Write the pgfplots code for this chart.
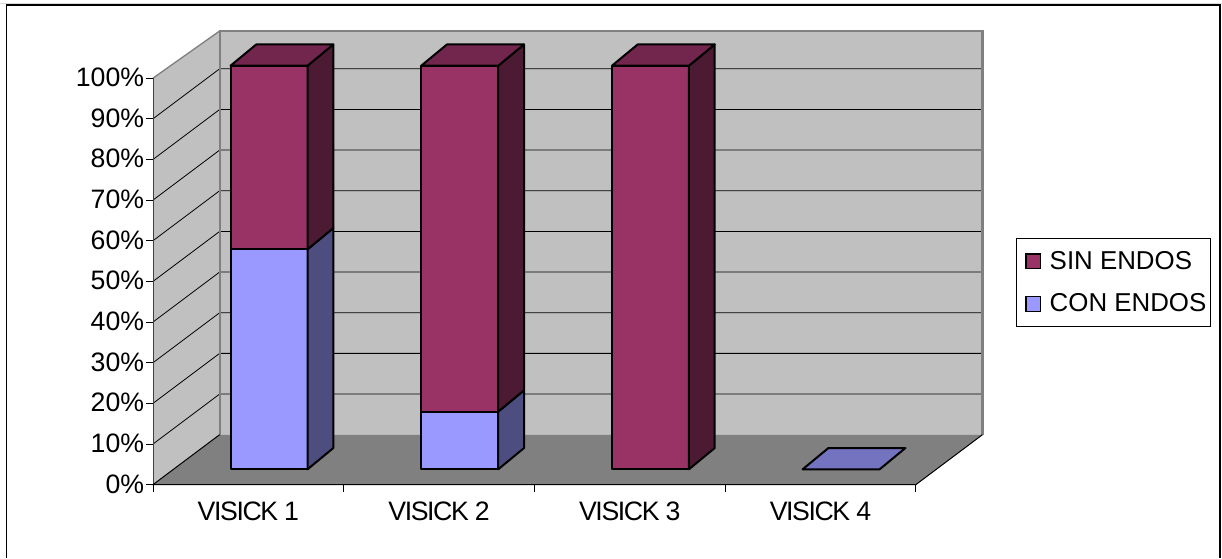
\documentclass[border=0pt]{standalone}
\usepackage{fontspec}
\setmainfont{Liberation Sans}
\newfontfamily\tightfont[LetterSpace=-5.2]{Liberation Sans}
\usepackage{pgfplots}
\pgfplotsset{compat=1.18}
\definecolor{wall}{HTML}{C0C0C0}
\definecolor{floorc}{HTML}{808080}
\definecolor{sinF}{HTML}{993366}
\definecolor{sinS}{HTML}{4D1A33}
\definecolor{sinT}{HTML}{73264D}
\definecolor{conF}{HTML}{9999FF}
\definecolor{conS}{HTML}{4D4D80}
\definecolor{conT}{HTML}{7373BF}
% One stacked segment: #1 category centre, #2 lower value, #3 upper value, #4 series prefix
\newcommand{\segment}[4]{%
  \pgfmathsetmacro{\xl}{#1-0.2019}\pgfmathsetmacro{\xr}{#1+0.2019}%
  \addplot3[fill=#4F,draw=black,line width=1.5pt,line join=round,forget plot]
    coordinates {(\xl,0,#2)(\xr,0,#2)(\xr,0,#3)(\xl,0,#3)(\xl,0,#2)(\xr,0,#2)};
  \addplot3[fill=#4S,draw=black,line width=1.5pt,line join=round,forget plot]
    coordinates {(\xr,0,#2)(\xr,1,#2)(\xr,1,#3)(\xr,0,#3)(\xr,0,#2)(\xr,1,#2)};
}
% Lid of a column: #1 category centre, #2 value, #3 series prefix
\newcommand{\lid}[3]{%
  \pgfmathsetmacro{\xl}{#1-0.2019}\pgfmathsetmacro{\xr}{#1+0.2019}%
  \addplot3[fill=#3T,draw=black,line width=1.5pt,line join=round,forget plot]
    coordinates {(\xl,0,#2)(\xr,0,#2)(\xr,1,#2)(\xl,1,#2)(\xl,0,#2)(\xr,0,#2)};
}
\begin{document}
\begin{tikzpicture}
\path[use as bounding box] (0,0) rectangle (916.5pt,418.5pt);
% Chart frame
\draw[black!15,line width=0.75pt] (0,415.5pt) -- (916.5pt,415.5pt);
\draw[black,line width=1pt] (4.9pt,0) -- (4.9pt,414.7pt) -- (915pt,414.7pt) -- (915pt,0);

% Room: walls, floor, gridlines, ticks
\begin{axis}[
  at={(114.75pt,55pt)},anchor=origin,
  x={(143.025pt,0pt)},y={(50pt,37.5pt)},z={(0pt,3.049pt)},
  xmin=0,xmax=4,ymin=0,ymax=1,zmin=0,zmax=100,
  clip=false,
  axis line style={draw=none},
  xtick={0.5,1.5,2.5,3.5},
  xticklabels={VISICK 1,VISICK 2,VISICK 3,VISICK 4},
  ytick=\empty,
  ztick={0,10,...,100},
  zticklabels={0\%,10\%,20\%,30\%,40\%,50\%,60\%,70\%,80\%,90\%,100\%},
  xtick pos=lower,ztick pos=left,
  major tick length=0pt,
  tick style={draw=none},
  x tick label style={font=\fontsize{20}{24}\selectfont\tightfont,anchor=north,inner sep=0pt,yshift=-12.75pt},
  z tick label style={font=\fontsize{20}{24}\selectfont,anchor=east,inner sep=0pt,xshift=-6.5pt,yshift=0.5pt},
]
\addplot3[fill=wall,draw=none] coordinates {(0,0,0)(0,1,0)(0,1,99.3)(0,0,100)(0,0,0)};
\addplot3[fill=wall,draw=none] coordinates {(0,1,0)(4,1,0)(4,1,99.3)(0,1,99.3)(0,1,0)};
\addplot3[fill=floorc,draw=none] coordinates {(0,0,0)(4,0,0)(4,1,0)(0,1,0)(0,0,0)};
\pgfplotsinvokeforeach{10,20,...,90}{
  \addplot3[black,line width=0.6pt] coordinates {(0,0,#1)(0,1,#1)(4,1,#1)};
}
\addplot3[floorc,line width=1.75pt] coordinates {(0,1,0)(0,1,99.3)(4,1,99.3)(4,1,0)};
\addplot3[floorc,line width=1pt] coordinates {(0,0,100)(0,1,99.3)};
\addplot3[black!75,line width=0.75pt] coordinates {(0,0,100)(0,0,0)};
\addplot3[black,line width=0.75pt] coordinates {(0,1,0)(0,0,0)(4,0,0)(4,1,0)};
% Tick marks, level on the percentage scale and upright on the category scale
\pgfplotsinvokeforeach{0,10,...,100}{
  \addplot3[black,line width=0.6pt] coordinates {(-0.0367,0,#1)(0,0,#1)};
}
\pgfplotsinvokeforeach{0,1,2,3,4}{
  \addplot3[black,line width=0.6pt] coordinates {(#1,0,0)(#1,0,-1.7)};
}
\end{axis}

% Columns and legend
\begin{axis}[
  at={(130.24pt,66.5pt)},anchor=origin,
  x={(143.025pt,0pt)},y={(19.35pt,15.98pt)},z={(0pt,3.027pt)},
  xmin=0,xmax=4,ymin=0,ymax=1,zmin=0,zmax=100,
  clip=false,hide axis,
  legend style={at={(axis cs:4.927,0,46.28)},anchor=center,draw=black,line width=0.6pt,
    font=\fontsize{19.4}{23}\selectfont,row sep=13pt,inner xsep=1pt,inner ysep=7.5pt},
  legend cell align=left,
  legend image code/.code={\path[draw=none,fill=none] (0pt,0pt) -- (22.25pt,0pt);
    \draw[#1,line width=1.1pt] (6.5pt,-5.5pt) rectangle (17.5pt,5.5pt);},
]
% VISICK 1
\segment{0.5}{0}{54.5}{con}
\segment{0.5}{54.5}{100}{sin}
\lid{0.5}{100}{sin}
% VISICK 2
\segment{1.5}{0}{14.3}{con}
\segment{1.5}{14.3}{100}{sin}
\lid{1.5}{100}{sin}
% VISICK 3
\segment{2.5}{0}{100}{sin}
\lid{2.5}{100}{sin}
% VISICK 4: no cases in either series
\lid{3.5}{0}{con}
\addlegendimage{fill=sinF,draw=black}
\addlegendentry{SIN ENDOS}
\addlegendimage{fill=conF,draw=black}
\addlegendentry{CON ENDOS}
\end{axis}
\end{tikzpicture}
\end{document}
